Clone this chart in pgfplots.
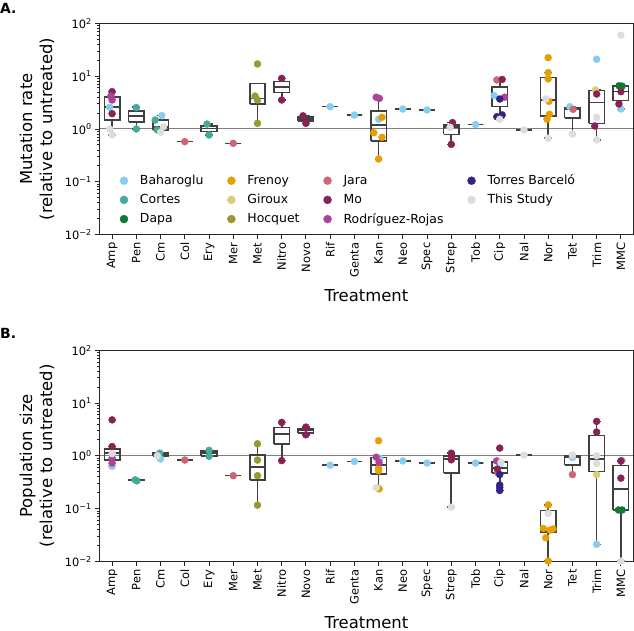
\documentclass[border=0pt]{standalone}
\usepackage{fontspec}
\setmainfont{DejaVu Sans}
\usepackage{pgfplots}
\pgfplotsset{compat=1.18}

\definecolor{bah}{HTML}{88CCEE}
\definecolor{cor}{HTML}{44AA99}
\definecolor{dap}{HTML}{117733}
\definecolor{fre}{HTML}{E69F00}
\definecolor{gir}{HTML}{DDCC77}
\definecolor{hoc}{HTML}{999933}
\definecolor{jar}{HTML}{CC6677}
\definecolor{mo}{HTML}{882255}
\definecolor{rr}{HTML}{AA4499}
\definecolor{tb}{HTML}{332288}
\definecolor{ts}{HTML}{DDDDDD}
\definecolor{boxc}{HTML}{404040}

% box: position, lower whisker, Q1, median, Q3, upper whisker
\newcommand{\bx}[6]{%
  \pgfmathsetmacro\xl{#1-0.32}\pgfmathsetmacro\xr{#1+0.32}%
  \pgfmathsetmacro\xcl{#1-0.16}\pgfmathsetmacro\xcr{#1+0.16}%
  \addplot[forget plot, draw=boxc, line width=1.6bp, mark=none] coordinates {(#1,#3) (#1,#2)};
  \addplot[forget plot, draw=boxc, line width=1.6bp, mark=none] coordinates {(#1,#5) (#1,#6)};
  \addplot[forget plot, draw=boxc, line width=1.6bp, mark=none] coordinates {(\xcl,#2) (\xcr,#2)};
  \addplot[forget plot, draw=boxc, line width=1.6bp, mark=none] coordinates {(\xcl,#6) (\xcr,#6)};
  \addplot[forget plot, draw=boxc, line width=1.6bp, mark=none] coordinates {(\xl,#3) (\xr,#3) (\xr,#5) (\xl,#5) (\xl,#3)};
  \addplot[forget plot, draw=boxc, line width=1.6bp, mark=none] coordinates {(\xl,#4) (\xr,#4)};
}
\newcommand{\pts}[2]{\addplot[only marks, mark=*, mark size=3.5bp, color=#1, forget plot] coordinates {#2};}
\newcommand{\refline}{\addplot[gray, line width=1bp, forget plot] coordinates {(-0.5,1) (21.5,1)};}
\newcommand{\lgi}[2]{\addlegendimage{only marks, mark=*, mark size=4bp, color=#1}\addlegendentry{#2}}

\begin{document}
\begin{tikzpicture}
\path[use as bounding box] (-100bp,-69.7bp) rectangle (534bp,561.3bp);

% ---------- A: mutation rate ----------
\begin{axis}[at={(0bp,326.8bp)}, anchor=south west,
    scale only axis, width=533bp, height=211bp,
    ymode=log, ymin=0.01, ymax=100, xmin=-0.5, xmax=21.5,
    xtick={0,...,21},
    xticklabels={Amp,Pen,Cm,Col,Ery,Mer,Met,Nitro,Novo,Rif,Genta,Kan,Neo,Spec,Strep,Tob,Cip,Nal,Nor,Tet,Trim,MMC},
    ytick={0.01,0.1,1,10,100},
    yticklabels={10\textsuperscript{−2},10\textsuperscript{−1},10\textsuperscript{0},10\textsuperscript{1},10\textsuperscript{2}},
    minor ytick={0.02,0.03,0.04,0.05,0.06,0.07,0.08,0.09,0.2,0.3,0.4,0.5,0.6,0.7,0.8,0.9,2,3,4,5,6,7,8,9,20,30,40,50,60,70,80,90},
    tick pos=left, tick align=outside,
    major tick length=5bp, minor tick length=3bp,
    tick style={black!85, line width=0.9bp},
    axis line style={black!85, line width=1bp},
    xticklabel style={yshift=-3bp, rotate=90, anchor=east, inner sep=0pt, font=\fontsize{11.5}{12}\selectfont},
    yticklabel style={xshift=-3bp, anchor=east, inner sep=0pt, font=\fontsize{11.5}{12}\selectfont},
    xlabel={Treatment},
    xlabel style={at={(axis description cs:0.5,-0.289)}, anchor=center, font=\fontsize{16.5}{20}\selectfont},
    ylabel style={at={(axis description cs:-0.1182,0.5)}, anchor=center, align=center, font=\fontsize{16.5}{20}\selectfont},
  ylabel={Mutation rate\\(relative to untreated)},
  legend columns=4, legend cell align=left,
  legend style={at={(0.0375,0.2915)}, anchor=north west, draw=none, fill=none,
    inner sep=0pt, outer sep=0pt, row sep=4bp,
    font=\fontsize{12.5}{14}\selectfont,
    /tikz/every odd column/.append style={column sep=10bp},
    /tikz/every even column/.append style={column sep=22bp}},
]
\lgi{bah}{Baharoglu}
\lgi{fre}{Frenoy}
\lgi{jar}{Jara}
\lgi{tb}{Torres Barceló}
\lgi{cor}{Cortes}
\lgi{gir}{Giroux}
\lgi{mo}{Mo}
\lgi{ts}{This Study}
\lgi{dap}{Dapa}
\lgi{hoc}{Hocquet}
\lgi{rr}{Rodríguez-Rojas}

\refline
\bx{0}{0.77}{1.48}{2.58}{4.0}{5.1}
\bx{1}{1.0}{1.36}{1.75}{2.19}{2.58}
\bx{2}{0.87}{0.96}{1.1}{1.48}{1.79}
\bx{3}{0.575}{0.575}{0.575}{0.575}{0.575}
\bx{4}{0.77}{0.89}{1.03}{1.14}{1.24}
\bx{5}{0.535}{0.535}{0.535}{0.535}{0.535}
\bx{6}{1.28}{2.94}{3.8}{7.35}{7.35}
\bx{7}{3.55}{4.9}{6.25}{7.9}{9.1}
\bx{8}{1.28}{1.4}{1.53}{1.68}{1.78}
\bx{9}{2.65}{2.65}{2.65}{2.65}{2.65}
\bx{10}{1.84}{1.84}{1.84}{1.84}{1.84}
\bx{11}{0.27}{0.6}{1.18}{2.19}{4.0}
\bx{12}{2.39}{2.39}{2.39}{2.39}{2.39}
\bx{13}{2.29}{2.29}{2.29}{2.29}{2.29}
\bx{14}{0.51}{0.79}{1.08}{1.2}{1.32}
\bx{15}{1.21}{1.21}{1.21}{1.21}{1.21}
\bx{16}{1.6}{2.65}{4.0}{6.25}{8.8}
\bx{17}{0.96}{0.96}{0.96}{0.96}{0.96}
\bx{18}{0.67}{1.78}{3.55}{9.55}{11.7}
\bx{19}{0.8}{1.6}{2.36}{2.53}{2.65}
\bx{20}{0.62}{1.28}{3.2}{5.33}{5.5}
\bx{21}{2.39}{3.44}{5.1}{6.6}{6.7}

\pts{bah}{(-0.1,2.58) (2.05,1.79) (9,2.65) (10,1.84) (11,1.53) (12,2.39) (13,2.29) (15,1.21) (15.77,4.3) (18.89,2.65) (20,21) (21,2.4)}
\pts{cor}{(1,2.55) (1,1.0) (1.78,1.48) (1.86,0.96) (3.92,1.24) (4,0.77)}
\pts{dap}{(20.92,6.6) (21.05,6.5)}
\pts{fre}{(11.14,1.67) (10.8,0.85) (11.14,0.695) (11,0.27) (18,22.5) (18,11.7) (18,8.9) (18.03,3.35) (18.05,1.9) (17.95,1.53)}
\pts{gir}{(19.95,5.5)}
\pts{hoc}{(6,17.1) (5.9,4.2) (6,3.55) (6,1.28)}
\pts{jar}{(3,0.575) (5,0.535) (15.88,8.5) (19.03,2.36)}
\pts{mo}{(0,5.1) (0,1.95) (7,9.1) (7,3.55) (7.88,1.78) (8,1.28) (14.05,1.32) (14,0.51) (16.1,8.7) (20,4.6) (19.92,1.14) (21,5.1) (20.92,2.98)}
\pts{rr}{(-0.05,4.2) (0,3.55) (10.9,4.0) (11.03,3.8) (16.2,4.0)}
\pts{tb}{(16,3.7) (15.88,1.71) (16.1,1.85)}
\pts{ts}{(-0.1,1.0) (0,0.77) (2.12,1.1) (2,0.87) (13.95,1.08) (16,1.53) (17,0.96) (17.9,3.7) (18,0.67) (19,0.8) (20,1.67) (20,0.62) (21,60)}
\end{axis}

% ---------- B: population size ----------
\begin{axis}[at={(0bp,0bp)}, anchor=south west,
    scale only axis, width=533bp, height=211bp,
    ymode=log, ymin=0.01, ymax=100, xmin=-0.5, xmax=21.5,
    xtick={0,...,21},
    xticklabels={Amp,Pen,Cm,Col,Ery,Mer,Met,Nitro,Novo,Rif,Genta,Kan,Neo,Spec,Strep,Tob,Cip,Nal,Nor,Tet,Trim,MMC},
    ytick={0.01,0.1,1,10,100},
    yticklabels={10\textsuperscript{−2},10\textsuperscript{−1},10\textsuperscript{0},10\textsuperscript{1},10\textsuperscript{2}},
    minor ytick={0.02,0.03,0.04,0.05,0.06,0.07,0.08,0.09,0.2,0.3,0.4,0.5,0.6,0.7,0.8,0.9,2,3,4,5,6,7,8,9,20,30,40,50,60,70,80,90},
    tick pos=left, tick align=outside,
    major tick length=5bp, minor tick length=3bp,
    tick style={black!85, line width=0.9bp},
    axis line style={black!85, line width=1bp},
    xticklabel style={yshift=-3bp, rotate=90, anchor=east, inner sep=0pt, font=\fontsize{11.5}{12}\selectfont},
    yticklabel style={xshift=-3bp, anchor=east, inner sep=0pt, font=\fontsize{11.5}{12}\selectfont},
    xlabel={Treatment},
    xlabel style={at={(axis description cs:0.5,-0.289)}, anchor=center, font=\fontsize{16.5}{20}\selectfont},
    ylabel style={at={(axis description cs:-0.1182,0.5)}, anchor=center, align=center, font=\fontsize{16.5}{20}\selectfont},
  ylabel={Population size\\(relative to untreated)},
]
\refline
\bx{0}{0.63}{0.84}{1.12}{1.34}{1.5}
\bx{1}{0.335}{0.34}{0.343}{0.347}{0.35}
\bx{2}{0.87}{1.0}{1.07}{1.12}{1.15}
\bx{3}{0.83}{0.83}{0.83}{0.83}{0.83}
\bx{4}{0.98}{1.0}{1.12}{1.24}{1.27}
\bx{5}{0.42}{0.42}{0.42}{0.42}{0.42}
\bx{6}{0.116}{0.345}{0.62}{1.04}{1.69}
\bx{7}{0.81}{1.67}{2.58}{3.45}{4.3}
\bx{8}{2.5}{2.7}{3.0}{3.26}{3.5}
\bx{9}{0.665}{0.665}{0.665}{0.665}{0.665}
\bx{10}{0.78}{0.78}{0.78}{0.78}{0.78}
\bx{11}{0.236}{0.45}{0.675}{0.93}{0.94}
\bx{12}{0.8}{0.8}{0.8}{0.8}{0.8}
\bx{13}{0.73}{0.73}{0.73}{0.73}{0.73}
\bx{14}{0.106}{0.47}{0.87}{0.98}{1.12}
\bx{15}{0.73}{0.73}{0.73}{0.73}{0.73}
\bx{16}{0.22}{0.47}{0.58}{0.76}{0.8}
\bx{17}{1.03}{1.03}{1.03}{1.03}{1.03}
\bx{18}{0.0101}{0.0355}{0.041}{0.092}{0.117}
\bx{19}{0.44}{0.675}{0.93}{1.0}{1.03}
\bx{20}{0.021}{0.5}{0.865}{2.43}{4.5}
\bx{21}{0.0101}{0.094}{0.236}{0.655}{0.8}

\pts{bah}{(0,0.63) (2,0.87) (9,0.665) (10,0.78) (11.05,0.9) (12,0.8) (13,0.73) (15,0.73) (16,0.7) (19,0.93) (20,0.021) (21.05,0.82)}
\pts{cor}{(0.95,0.35) (1.02,0.335) (1.97,1.12) (4,1.27) (4,0.98)}
\pts{dap}{(20.9,0.094) (21.05,0.094)}
\pts{fre}{(11,1.93) (11,0.58) (11,0.52) (11.02,0.236) (18,0.117) (17.8,0.042) (18.07,0.039) (18.2,0.041) (17.9,0.028) (18,0.0101)}
\pts{gir}{(20,0.44)}
\pts{hoc}{(6,1.69) (6,0.83) (6,0.42) (6,0.116)}
\pts{jar}{(3,0.83) (5,0.42) (15.93,0.47) (19,0.44)}
\pts{mo}{(0,4.8) (0,1.5) (7,4.3) (7,0.81) (8,3.5) (8,2.5) (14,1.12) (14.02,0.97) (14,0.84) (16,1.4) (15.9,0.56) (20,4.5) (20,2.82) (21,0.8) (21,0.377)}
\pts{rr}{(0,0.9) (0,0.73) (10.9,0.94) (11.02,0.75) (15.87,0.8)}
\pts{tb}{(16,0.44) (16,0.28) (16,0.25) (16,0.22)}
\pts{ts}{(0,1.1) (1.87,1.0) (10.9,0.25) (14,0.106) (16.05,0.75) (17,1.03) (18,0.081) (19,1.03) (20,1.0) (20,0.715) (21,0.0101)}
\end{axis}

\node[anchor=west, inner sep=0pt, font=\bfseries\fontsize{14}{16}\selectfont] at (-100bp,553bp) {A.};
\node[anchor=west, inner sep=0pt, font=\bfseries\fontsize{14}{16}\selectfont] at (-100bp,228bp) {B.};
\end{tikzpicture}
\end{document}
